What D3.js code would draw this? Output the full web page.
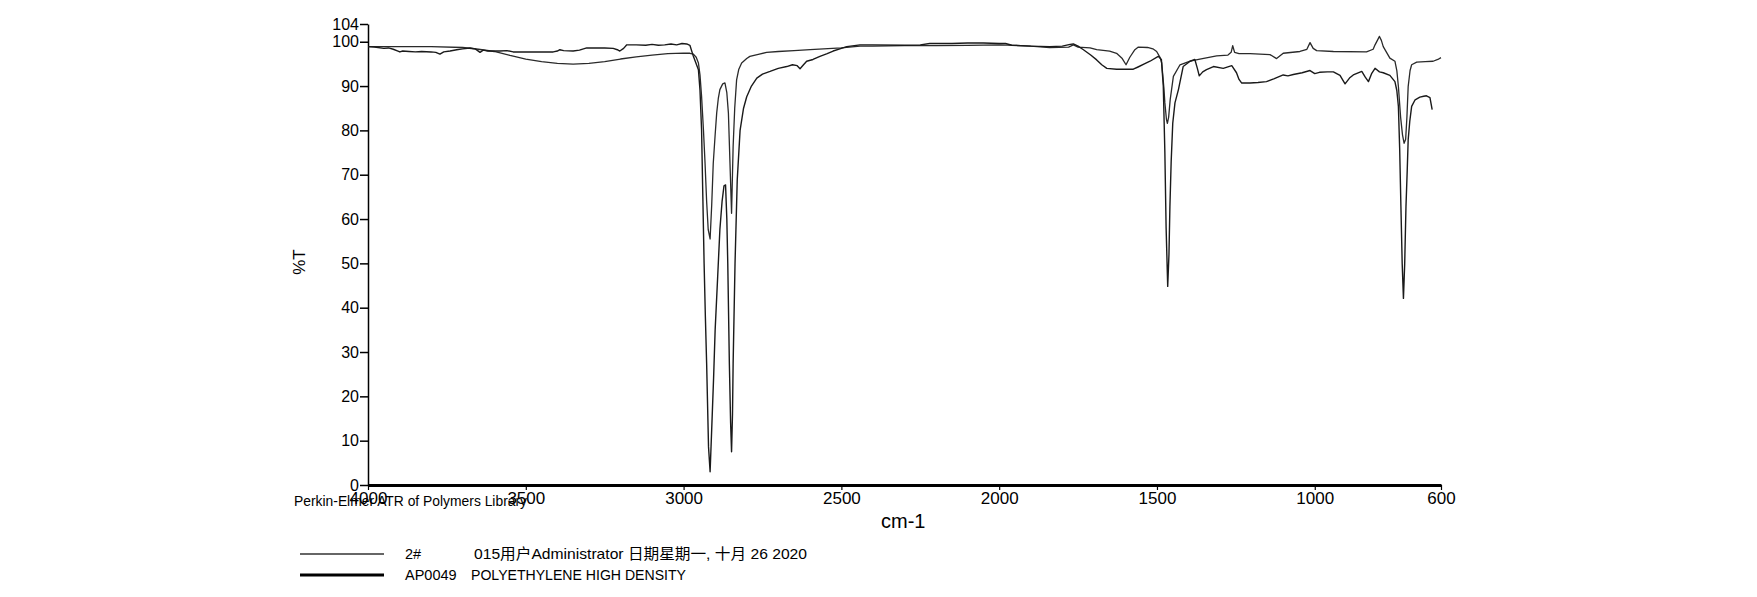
<!DOCTYPE html>
<html>
<head>
<meta charset="utf-8">
<script src="https://cdn.jsdelivr.net/npm/d3@7"></script>
<style>
  html, body { margin: 0; padding: 0; background: #fff; }
  svg { display: block; }
  text { font-family: "Liberation Sans", Arial, sans-serif; fill: #000; }
</style>
</head>
<body>
<svg id="chart" width="1757" height="597"></svg>
<script>
// ---- Data ----
const xTicks = [4000, 3500, 3000, 2500, 2000, 1500, 1000, 600];
const yTicks = [0, 10, 20, 30, 40, 50, 60, 70, 80, 90, 100, 104];

// Series "2#" (sample, thin line)
const sampleWn = [4000,3900,3800,3700,3650,3600,3550,3500,3450,3400,3350,3300,3250,3200,3150,3100,3050,3000,2980,2969,2960,2953,2948,2943,2937,2932,2927,2922,2916,2911,2906,2900,2895,2890,2885,2876,2869,2863,2858,2853,2848,2843,2838,2832,2825,2816,2800,2790,2760,2737,2700,2650,2599,2500,2441,2400,2300,2200,2100,2000,1950,1900,1840,1780,1765,1750,1712,1691,1650,1628,1610,1598,1586,1570,1559,1530,1513,1501,1490,1485,1478,1475,1470,1467,1463,1458,1448,1427,1395,1364,1311,1275,1265,1260,1254,1240,1205,1142,1121,1100,1047,1025,1015,1005,994,941,836,815,809,795,789,783,762,746,740,735,728,722,717,712,708,704,698,693,677,650,625,610,600];
const sampleT = [98.9,98.9,98.9,98.7,98.3,97.8,96.9,96.1,95.5,95.1,94.95,95.1,95.5,96.1,96.6,97.0,97.3,97.45,97.4,97.2,96.5,95.2,92.5,87.7,80,72.6,64,57.6,55.5,63,72.6,79,84,87.2,89.2,90.5,90.7,88.5,83.9,72.6,61.3,76.4,85,91.4,93.8,95.2,96.2,96.7,97.2,97.6,97.8,98.0,98.2,98.6,99.0,99.0,99.1,99.1,99.2,99.3,99.2,99.0,98.7,98.8,99.3,98.8,98.6,98.2,97.9,97.4,96.2,94.8,96.5,98.2,98.8,98.7,98.4,97.8,96.4,95.2,89.5,86.2,82.5,81.6,83,87,92.2,94.8,95.6,96.1,96.8,97.0,97.6,99.1,97.6,97.3,97.3,97.1,96.2,97.4,97.8,98.3,99.8,98.5,98.0,97.8,97.7,98.3,99.3,101.2,100.3,98.9,96.3,95.6,93.5,89.9,83,79,77.1,78,83,89.9,93.5,94.8,95.4,95.5,95.6,96.0,96.4];

// Series "AP0049 POLYETHYLENE HIGH DENSITY" (library, thick line)
const libraryWn = [4000,3980,3950,3935,3920,3905,3899,3890,3870,3850,3830,3800,3785,3772,3760,3740,3719,3700,3677,3660,3645,3635,3620,3582,3560,3540,3500,3450,3413,3400,3392,3380,3350,3330,3307,3280,3250,3223,3210,3202,3190,3180,3150,3120,3100,3080,3060,3040,3022,3005,2990,2980,2969,2953,2948,2943,2939,2935,2931,2927,2921,2916,2911,2905,2900,2892,2885,2878,2872,2867,2863,2860,2855,2851,2848,2845,2843,2837,2830,2821,2810,2800,2785,2768,2750,2726,2700,2673,2655,2640,2631,2620,2610,2590,2568,2545,2526,2500,2483,2441,2400,2300,2250,2220,2150,2100,2050,2000,1980,1960,1900,1840,1800,1775,1765,1750,1733,1710,1691,1675,1659,1628,1600,1575,1560,1540,1522,1496,1486,1480,1475,1471,1466,1462,1459,1455,1450,1443,1432,1417,1395,1380,1372,1366,1355,1343,1321,1290,1263,1248,1240,1232,1205,1180,1153,1130,1100,1085,1068,1040,1015,1000,985,960,941,920,904,890,878,851,840,830,820,809,795,783,762,746,740,735,731,727,723,719,715,711,707,704,699,693,682,667,655,646,635,628];
const libraryT = [98.9,98.8,98.5,98.6,98.3,97.9,97.7,97.9,97.8,97.7,97.8,97.7,97.6,97.2,97.7,97.9,98.2,98.4,98.6,98.4,97.6,98.1,97.9,97.9,98.0,97.7,97.7,97.7,97.7,97.9,98.2,98.0,97.9,98.1,98.6,98.6,98.6,98.5,98.2,97.9,98.5,99.3,99.3,99.2,99.4,99.2,99.3,99.5,99.3,99.6,99.5,99.2,96.7,93.7,89,80.1,65,50,38,27.5,8.6,3,12.4,24,35,47,57.6,64,67.5,67.7,60,50,27.5,14,7.5,16,27.5,50,68.8,80,85,87.6,90,91.8,92.7,93.3,94.0,94.4,94.8,94.6,93.9,94.8,95.6,96.0,96.7,97.3,97.9,98.5,98.9,99.3,99.3,99.2,99.3,99.6,99.6,99.7,99.7,99.6,99.6,99.2,99.0,98.9,99.0,99.4,99.5,99.0,98.2,97.0,95.9,94.8,94.0,93.8,93.8,93.8,94.3,95.0,95.6,96.7,96.0,90,75,58,44.8,52,62.8,73,81.6,86.2,89.2,94.4,95.6,96.0,94,92.3,93.2,93.7,94.4,94.0,94.6,93.0,91.5,90.7,90.7,90.8,91.0,91.6,92.5,92.3,92.6,93.0,93.5,92.8,93.1,93.2,93.2,92.4,90.5,91.8,92.5,93.3,92,91.0,92.8,94.0,93.2,93.0,92.4,91.0,89,85.4,76,62.8,50,42.1,50,62.8,71,77.9,82,85.4,86.9,87.5,87.7,87.8,87.4,84.7];

const legendLabels = ["2#", "AP0049"];
const legendTexts = ["015用户Administrator 日期星期一, 十月 26 2020", "POLYETHYLENE HIGH DENSITY"];
const footnote = "Perkin-Elmer ATR of Polymers Library";
const xTitle = "cm-1";
const yTitle = "%T";

// ---- Drawing ----
const svg = d3.select("#chart");
const x = d3.scaleLinear().domain([4000, 600]).range([368, 1441]);
const y = d3.scaleLinear().domain([0, 104]).range([485, 24]);

// Y axis
const yAxis = svg.append("g")
  .attr("transform", `translate(${x(4000)},0)`)
  .call(d3.axisLeft(y).tickValues(yTicks).tickSize(8).tickSizeOuter(0).tickPadding(1).tickFormat(d3.format("d")));
yAxis.select(".domain").attr("stroke", "#000").attr("stroke-width", 1.5);
yAxis.selectAll(".tick line").attr("stroke", "#000").attr("stroke-width", 1.5);
yAxis.selectAll("text").style("font-size", "16px").attr("fill", "#000");

// X axis
const xAxis = svg.append("g")
  .attr("transform", `translate(0,${y(0)})`)
  .call(d3.axisBottom(x).tickValues(xTicks).tickSize(5).tickSizeOuter(0).tickPadding(2).tickFormat(d3.format("d")));
xAxis.select(".domain").attr("stroke", "#000").attr("stroke-width", 3);
xAxis.selectAll(".tick line").attr("stroke", "#000").attr("stroke-width", 1.2);
xAxis.selectAll("text").style("font-size", "17px").attr("fill", "#000");

// Curves
const line = d3.line().x(d => x(d[0])).y(d => y(d[1]));
const sampleData = sampleWn.map((w, i) => [w, sampleT[i]]);
const libraryData = libraryWn.map((w, i) => [w, libraryT[i]]);

svg.append("path").datum(sampleData)
  .attr("d", line).attr("fill", "none").attr("stroke", "#2a2a2a").attr("stroke-width", 1.3)
  .attr("stroke-linejoin", "round");
svg.append("path").datum(libraryData)
  .attr("d", line).attr("fill", "none").attr("stroke", "#1a1a1a").attr("stroke-width", 1.4)
  .attr("stroke-linejoin", "round");

// Titles
svg.append("text").attr("x", 881).attr("y", 528).style("font-size", "20px").text(xTitle);
svg.append("text").attr("transform", "translate(305,262) rotate(-90)")
  .attr("text-anchor", "middle").style("font-size", "17px").text(yTitle);

svg.append("text").attr("x", 294).attr("y", 506).style("font-size", "14px")
  .attr("textLength", 233).attr("lengthAdjust", "spacingAndGlyphs").text(footnote);

// Legend
const legendRows = [
  { y: 554, sw: 1.5, color: "#333", label: legendLabels[0], text: legendTexts[0], tx: 474, tw: 333 },
  { y: 575, sw: 3, color: "#000", label: legendLabels[1], text: legendTexts[1], tx: 471, tw: 215 }
];
legendRows.forEach(r => {
  svg.append("line").attr("x1", 300).attr("x2", 384).attr("y1", r.y).attr("y2", r.y)
    .attr("stroke", r.color).attr("stroke-width", r.sw);
  svg.append("text").attr("x", 405).attr("y", r.y + 5).style("font-size", "14.5px").text(r.label);
  svg.append("text").attr("x", r.tx).attr("y", r.y + 5)
    .style("font-size", "14.5px")
    .style("font-family", "'Liberation Sans', 'Noto Sans CJK SC', sans-serif")
    .attr("textLength", r.tw).attr("lengthAdjust", "spacingAndGlyphs").text(r.text);
});
</script>
</body>
</html>
